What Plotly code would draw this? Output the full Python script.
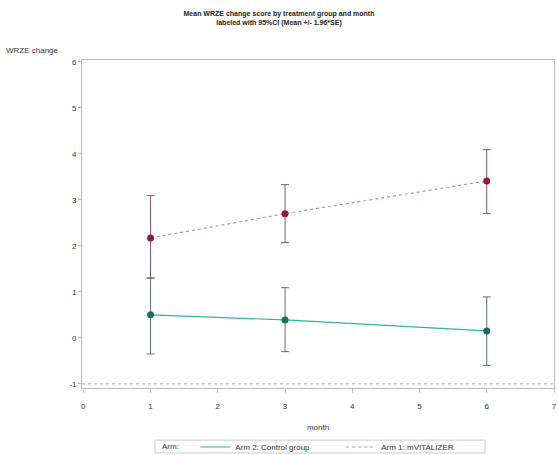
import plotly.graph_objects as go

months = [1, 3, 6]
arm1_mean = [2.17, 2.70, 3.41]
arm1_lower = [1.30, 2.07, 2.70]
arm1_upper = [3.09, 3.33, 4.09]
arm2_mean = [0.50, 0.39, 0.15]
arm2_lower = [-0.35, -0.30, -0.60]
arm2_upper = [1.30, 1.09, 0.89]

x_ticks = [0, 1, 2, 3, 4, 5, 6, 7]
y_ticks = [-1, 0, 1, 2, 3, 4, 5, 6]

FONT = "Liberation Sans, Arial, sans-serif"
GREEN_LINE, GREEN_MK = "#2bb5a3", "#1d6b63"
RED_LINE, RED_MK = "#c88a9a", "#8a1d3f"

fig = go.Figure()

fig.add_trace(go.Scatter(
    x=months, y=arm2_mean, mode="lines+markers", showlegend=False,
    line=dict(color=GREEN_LINE, width=1.2),
    marker=dict(color=GREEN_MK, size=7),
    error_y=dict(type="data", symmetric=False,
                 array=[u - m for u, m in zip(arm2_upper, arm2_mean)],
                 arrayminus=[m - l for m, l in zip(arm2_mean, arm2_lower)],
                 color="#5f6f6d", thickness=1, width=4),
))
fig.add_trace(go.Scatter(
    x=months, y=arm1_mean, mode="lines+markers", showlegend=False,
    line=dict(color=RED_LINE, width=1.2, dash="dot"),
    marker=dict(color=RED_MK, size=7),
    error_y=dict(type="data", symmetric=False,
                 array=[u - m for u, m in zip(arm1_upper, arm1_mean)],
                 arrayminus=[m - l for m, l in zip(arm1_mean, arm1_lower)],
                 color="#8a5060", thickness=1, width=4),
))
# legend entries (line samples only)
fig.add_trace(go.Scatter(x=[None], y=[None], mode="lines",
                         name="Arm 2: Control group" + "\u00a0" * 12,
                         line=dict(color=GREEN_LINE, width=1.2)))
fig.add_trace(go.Scatter(x=[None], y=[None], mode="lines", name="Arm 1: mVITALIZER",
                         line=dict(color=RED_LINE, width=1.2, dash="dot")))

fig.add_shape(type="line", xref="paper", x0=0, x1=1, yref="y", y0=-1, y1=-1,
              line=dict(color="#aaaaaa", width=1, dash="dot"))
# legend frame
fig.add_shape(type="rect", xref="paper", yref="paper",
              x0=0.1547, x1=0.854, y0=-0.198, y1=-0.159,
              line=dict(color="#cccccc", width=1))

fig.update_layout(
    width=558, height=455,
    margin=dict(l=82, r=4, t=60, b=67, autoexpand=False),
    paper_bgcolor="white", plot_bgcolor="white",
    font=dict(family=FONT, size=8, color="#333333"),
    title=dict(text="<b>Mean WRZE change score by treatment group and month<br>labeled with 95%CI (Mean +/- 1.96*SE)</b>",
               x=0.5, xanchor="center", y=0.965, yanchor="top",
               font=dict(family=FONT, size=7, color="#222222")),
    showlegend=True,
    legend=dict(orientation="h", x=0.24, xanchor="left",
                yref="container", y=0.0176, yanchor="middle",
                borderwidth=0, bgcolor="rgba(0,0,0,0)",
                font=dict(size=8), traceorder="normal",
                itemwidth=30, tracegroupgap=0),
)

fig.update_xaxes(range=[-0.02, 7.0], tickvals=x_ticks, ticktext=[str(v) for v in x_ticks],
                 showgrid=False, zeroline=False, showline=True, linecolor="#bbbbbb",
                 mirror=True, ticks="outside", ticklen=4, tickcolor="#bbbbbb",
                 ticklabelstandoff=6,
                 title=dict(text="month", font=dict(size=8), standoff=17))
fig.update_yaxes(range=[-1.09, 6.04], tickvals=y_ticks, ticktext=[str(v) for v in y_ticks],
                 showgrid=False, zeroline=False, showline=True, linecolor="#bbbbbb",
                 mirror=True, ticks="outside", ticklen=3, tickcolor="#bbbbbb")

fig.add_annotation(text="WRZE change", xref="paper", yref="paper", x=-0.165, y=1.01,
                   xanchor="left", yanchor="bottom", showarrow=False,
                   font=dict(family=FONT, size=8, color="#333333"))
fig.add_annotation(text="Arm:", xref="paper", yref="paper", x=0.165, y=-0.1785,
                   xanchor="left", yanchor="middle", showarrow=False,
                   font=dict(family=FONT, size=8, color="#333333"))

fig.write_html("out.html")
